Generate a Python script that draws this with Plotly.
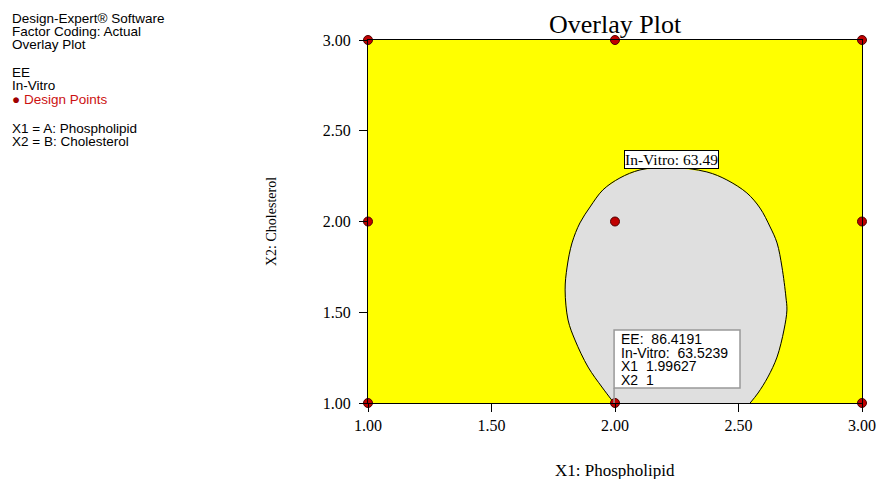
import plotly.graph_objects as go

# Design points (X1: Phospholipid, X2: Cholesterol)
design_x1 = [1, 2, 3, 1, 2, 3, 1, 2, 3]
design_x2 = [1, 1, 1, 2, 2, 2, 3, 3, 3]

# Boundary of the In-Vitro = 63.49 contour (grey region)
boundary_x1 = [1.996, 1.947, 1.891, 1.838, 1.810, 1.798, 1.806, 1.826, 1.858, 1.899,
               1.951, 2.020, 2.101, 2.223, 2.372, 2.453, 2.534, 2.587, 2.628,
               2.656, 2.676, 2.692, 2.696, 2.684, 2.656, 2.619, 2.579, 2.547]
boundary_x2 = [1.000, 1.088, 1.198, 1.347, 1.457, 1.623, 1.749, 1.882, 1.992, 2.080,
               2.174, 2.240, 2.284, 2.300, 2.273, 2.229, 2.157, 2.074, 1.970,
               1.882, 1.749, 1.584, 1.512, 1.402, 1.253, 1.143, 1.055, 1.000]

tick_vals = [1.0, 1.5, 2.0, 2.5, 3.0]
tick_text = ["1.00", "1.50", "2.00", "2.50", "3.00"]

contour_label = "In-Vitro: 63.49"
flag_lines = ["EE:  86.4191", "In-Vitro:  63.5239", "X1  1.99627", "X2  1"]
flag_x1, flag_x2 = 1.99627, 1.0

info_lines = [
    ("Design-Expert® Software", 18),
    ("Factor Coding: Actual", 31),
    ("Overlay Plot", 44),
    ("EE", 72),
    ("In-Vitro", 85),
    ("X1 = A: Phospholipid", 128),
    ("X2 = B: Cholesterol", 141),
]

L, R, T, B = 368, 15, 40, 76
W, H = 877, 479
PW, PH = W - L - R, H - T - B

def px_x(px):
    return (px - L) / PW

def px_y(py):
    return (H - B - py) / PH

def dx(px):
    return 1 + 2 * (px - L) / PW

def dy(py):
    return 3 - 2 * (py - T) / PH

serif = "Liberation Serif, Times New Roman, serif"
sans = "Liberation Sans, Arial, sans-serif"

fig = go.Figure()
fig.add_trace(go.Scatter(
    x=boundary_x1, y=boundary_x2, mode="lines", fill="toself", fillcolor="#dfdfdf",
    line=dict(width=0), hoverinfo="skip", showlegend=False))
fig.add_trace(go.Scatter(
    x=boundary_x1, y=boundary_x2, mode="lines",
    line=dict(color="black", width=1, shape="spline", smoothing=1.0),
    hoverinfo="skip", showlegend=False))
fig.add_trace(go.Scatter(
    x=design_x1, y=design_x2, mode="markers", cliponaxis=False,
    marker=dict(size=9, color="#c00000", line=dict(color="#500000", width=1)),
    showlegend=False))

# flag box and connector
fig.add_shape(type="line", x0=flag_x1, x1=flag_x1, y0=flag_x2, y1=dy(388),
              line=dict(color="#999999", width=1.5), layer="above")
fig.add_shape(type="rect", x0=flag_x1, x1=dx(740), y0=dy(388), y1=dy(330),
              fillcolor="white", line=dict(color="#999999", width=1.5), layer="above")

annotations = []
for txt, py in info_lines:
    annotations.append(dict(xref="paper", yref="paper", x=px_x(10), y=px_y(py),
                            xanchor="left", yanchor="middle", showarrow=False,
                            text=txt, font=dict(family=sans, size=13.5, color="black")))
annotations.append(dict(xref="paper", yref="paper", x=px_x(10), y=px_y(99),
                        xanchor="left", yanchor="middle", showarrow=False,
                        text="<span style='color:#a00000'>●</span> Design Points",
                        font=dict(family=sans, size=13.5, color="#cc1111")))
annotations.append(dict(xref="paper", yref="paper", x=0.5, y=px_y(25),
                        xanchor="center", yanchor="middle", showarrow=False,
                        text="Overlay Plot", font=dict(family=serif, size=26, color="black")))
annotations.append(dict(xref="paper", yref="paper", x=0.5, y=px_y(470),
                        xanchor="center", yanchor="middle", showarrow=False,
                        text="X1: Phospholipid", font=dict(family=serif, size=17, color="black")))
annotations.append(dict(xref="paper", yref="paper", x=px_x(272), y=px_y(222),
                        xanchor="center", yanchor="middle", showarrow=False, textangle=-90,
                        text="X2: Cholesterol", font=dict(family=serif, size=14, color="black")))
annotations.append(dict(x=dx(671), y=dy(159), xanchor="center", yanchor="middle", showarrow=False,
                        text=contour_label, bgcolor="white", bordercolor="black",
                        borderwidth=1, borderpad=0, font=dict(family=serif, size=15.5, color="black")))
for i, line in enumerate(flag_lines):
    annotations.append(dict(x=dx(619), y=dy(339 + 13.6 * i), xanchor="left", yanchor="middle",
                            showarrow=False, text=line,
                            font=dict(family=sans, size=14, color="black")))

fig.update_layout(
    width=W, height=H, autosize=False,
    margin=dict(l=L, r=R, t=T, b=B, autoexpand=False),
    paper_bgcolor="white", plot_bgcolor="#ffff00",
    annotations=annotations,
    showlegend=False,
)
axis_common = dict(
    range=[1, 3], tickvals=tick_vals, ticktext=tick_text, automargin=False,
    showgrid=False, zeroline=False, showline=True, linecolor="black", linewidth=1,
    mirror=True, ticks="outside", ticklen=8, tickcolor="black",
    tickfont=dict(family=serif, size=16, color="black"),
)
fig.update_xaxes(**axis_common)
fig.update_yaxes(**axis_common, ticklabelstandoff=5)

post = "document.body.style.margin='0px';document.body.style.overflow='hidden';"
fig.write_html("out.html", post_script=post, config={"displayModeBar": False})
